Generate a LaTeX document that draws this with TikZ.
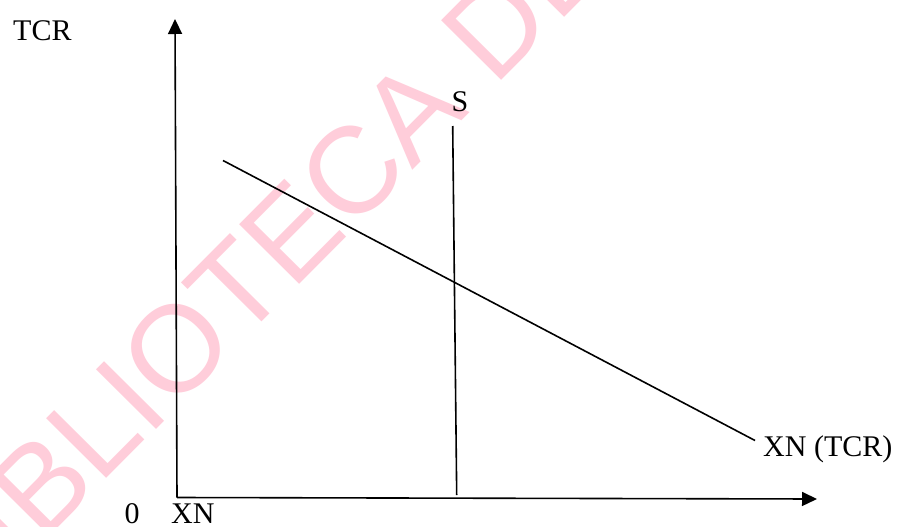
\documentclass[tikz,border=0pt]{standalone}
\usepackage{fontspec}
\setmainfont{Liberation Serif}
\newfontfamily\wmfamily{Liberation Sans}
\usetikzlibrary{arrows.meta}
\definecolor{wmpink}{RGB}{255,205,218}
\tikzset{
  axisline/.style={line width=1.6pt, -{Triangle[length=15pt,width=14pt]}},
  curveline/.style={line width=1.6pt},
  lbl/.style={inner sep=0pt, font=\fontsize{30}{34}\selectfont},
  wmark/.style={inner sep=0pt, text=wmpink, rotate=45.2, anchor=base west,
    font=\wmfamily\fontsize{123}{130}\selectfont}
}
\begin{document}
\begin{tikzpicture}[x=1pt,y=-1pt]
\useasboundingbox (0,0) rectangle (899,527);
\fill[white] (0,0) rectangle (899,527);
% watermark
\begin{scope}
  \clip (0,0) rectangle (899,527);
  \node[wmark] (wm) at (-40,626.4) {BIBLIOTECA DE};
\end{scope}
% axes
\coordinate (O) at (177,497.5);
\coordinate (ytip) at (175,19);
\coordinate (xtip) at (817,499);
\draw[axisline] (O) -- (ytip);
\draw[axisline] (O) -- (xtip);
% lines
\coordinate (d1) at (223,160.5);
\coordinate (d2) at (755,440.5);
\draw[curveline] (d1) -- (d2);
\coordinate (s1) at (452.7,126);
\coordinate (s2) at (456.7,495);
\draw[curveline] (s1) -- (s2);
% labels
\node[lbl, anchor=base west] (tcr) at (13,40.5) {TCR};
\node[lbl, anchor=base] (zero) at (132,523) {0};
\node[lbl, anchor=base west] (xn) at (171,523) {XN};
\node[lbl, anchor=base] (s) at (460,111) {S};
\node[lbl, anchor=base west] (xntcr) at (763,456) {XN (TCR)};
\end{tikzpicture}
\end{document}
